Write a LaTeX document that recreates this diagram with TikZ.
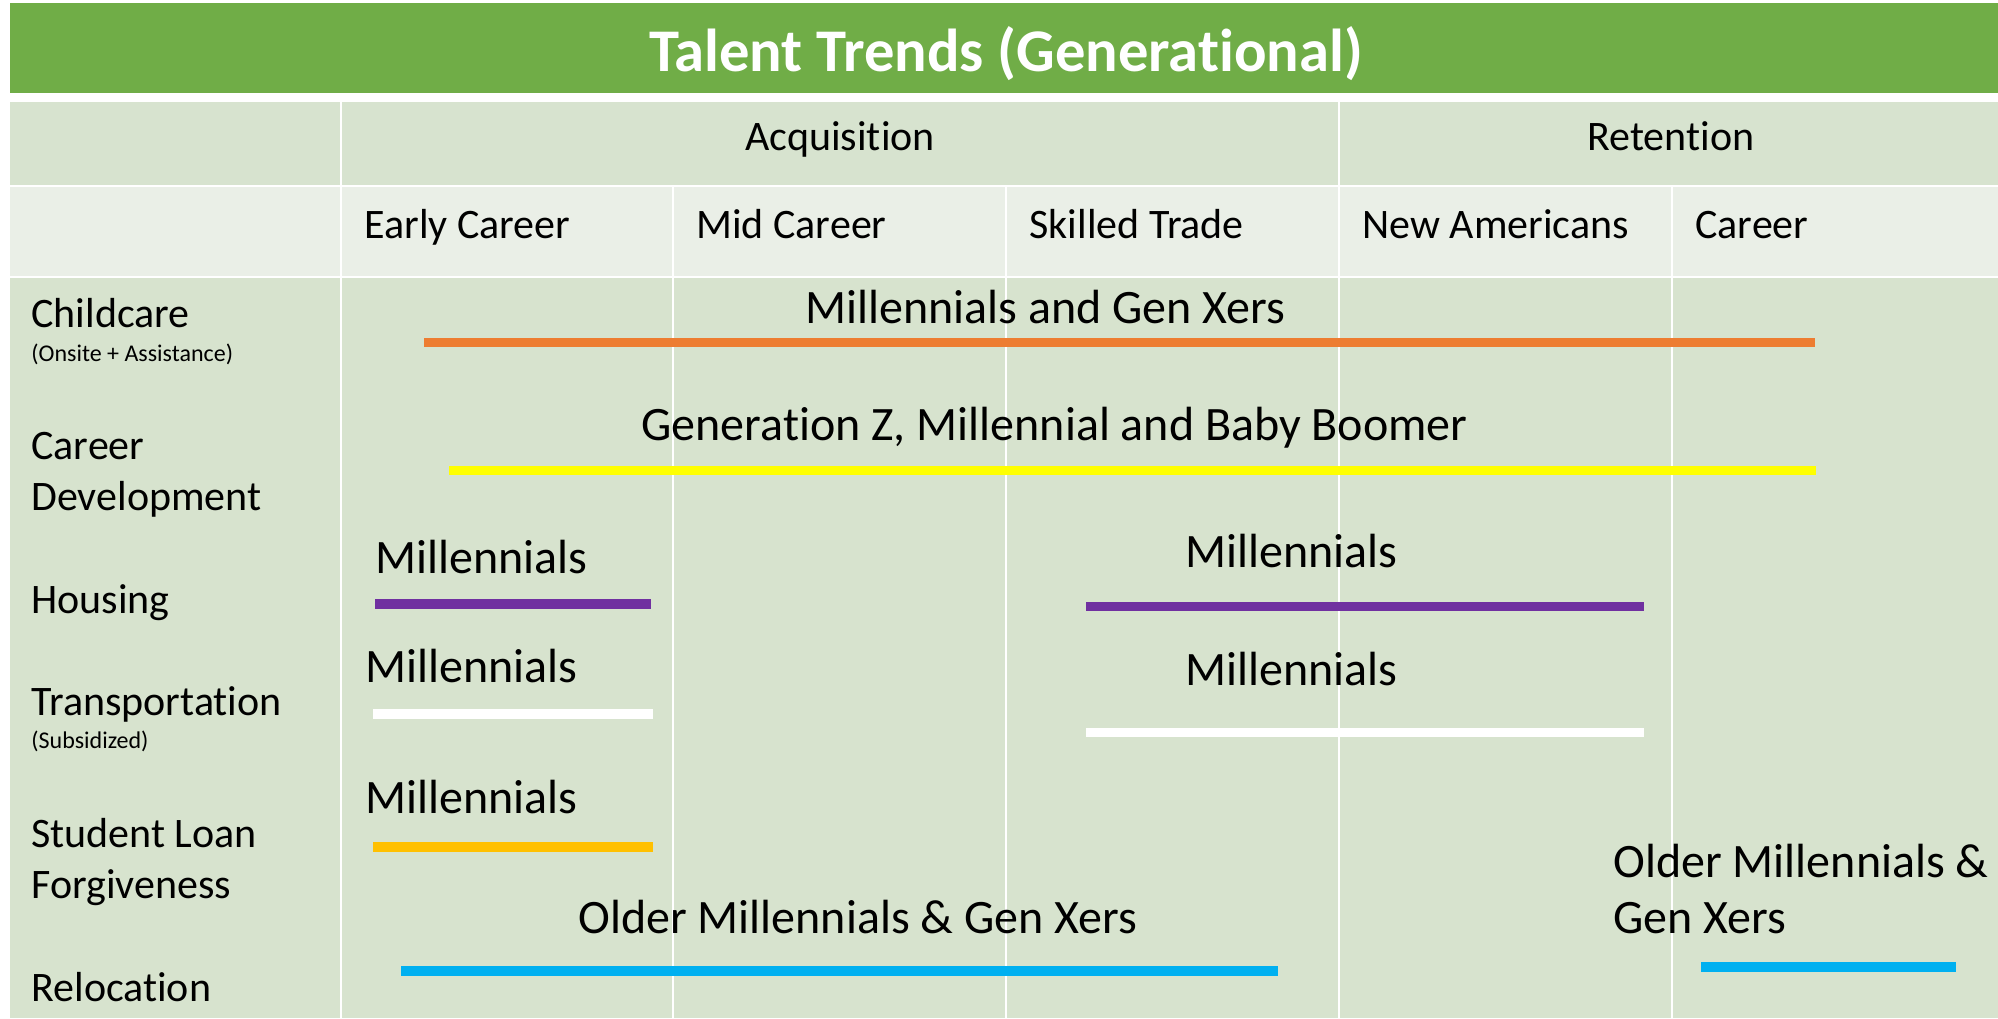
\documentclass[tikz,border=0pt]{standalone}
\usepackage{fontspec}
\setmainfont{Carlito}[Ligatures=NoCommon]
\definecolor{tgreen}{HTML}{70AD47}
\definecolor{hdrone}{HTML}{D7E3CF}
\definecolor{hdrtwo}{HTML}{EAEFE7}
\definecolor{bodyc}{HTML}{D7E3CE}
\definecolor{orangec}{HTML}{ED7D31}
\definecolor{yellowc}{HTML}{FFFF00}
\definecolor{purplec}{HTML}{7030A0}
\definecolor{amberc}{HTML}{FFC000}
\definecolor{bluec}{HTML}{00B0F0}
\begin{document}
\begin{tikzpicture}[x=0.5pt,y=-0.5pt,
  hdr/.style={inner sep=0pt, anchor=base, font=\fontsize{21}{25}\selectfont},
  sub/.style={inner sep=0pt, anchor=base west, font=\fontsize{21}{25}\selectfont},
  rowlab/.style={inner sep=0pt, anchor=base west, font=\fontsize{21}{25}\selectfont},
  small/.style={inner sep=0pt, anchor=base west, font=\fontsize{12}{14}\selectfont},
  barlab/.style={inner sep=0pt, anchor=base west, font=\fontsize{24}{29}\selectfont},
  bar/.style={line width=4.8pt, line cap=butt},
  grid/.style={white, line width=1.2pt}
]
% canvas
\fill[white] (0,0) rectangle (1998,1018);
\useasboundingbox (0,0) rectangle (1998,1018);
% title band
\fill[tgreen] (10,3) rectangle (1998,93);
\node[inner sep=0pt, anchor=base, text=white, font=\fontsize{30.3}{36}\selectfont\bfseries] (title) at (1006,71) {Talent Trends (Generational)};
% table backgrounds
\fill[hdrone] (10,102) rectangle (1998,184.5);
\fill[hdrtwo] (10,186.5) rectangle (1998,275.5);
\fill[bodyc] (10,277.5) rectangle (1998,1018);
% grid lines
\draw[grid] (341,102) -- (341,1018);
\draw[grid] (1339,102) -- (1339,1018);
\draw[grid] (673,186) -- (673,1018);
\draw[grid] (1006,186) -- (1006,1018);
\draw[grid] (1672,186) -- (1672,1018);
% header texts
\node[hdr] (acq) at (840,150) {Acquisition};
\node[hdr] (ret) at (1671,150) {Retention};
\node[sub] (early) at (364,238) {Early Career};
\node[sub] (mid) at (696,238) {Mid Career};
\node[sub] (skill) at (1029,238) {Skilled Trade};
\node[sub] (newam) at (1362,238) {New Americans};
\node[sub] (career) at (1695,238) {Career};
% row labels
\node[rowlab] (child) at (31,327) {Childcare};
\node[small] (childsub) at (31,361) {(Onsite + Assistance)};
\node[rowlab] (cd1) at (31,459) {Career};
\node[rowlab] (cd2) at (31,510) {Development};
\node[rowlab] (house) at (31,613) {Housing};
\node[rowlab] (trans) at (31,715) {Transportation};
\node[small] (transsub) at (31,748) {(Subsidized)};
\node[rowlab] (sl1) at (31,847) {Student Loan};
\node[rowlab] (sl2) at (31,898) {Forgiveness};
\node[rowlab] (reloc) at (31,1001) {Relocation};
% bars
\draw[bar, orangec] (424,342.5) -- (1815,342.5);
\draw[bar, yellowc] (449,470.5) -- (1816,470.5);
\draw[bar, purplec] (375,604) -- (651,604);
\draw[bar, purplec] (1086,606.5) -- (1644,606.5);
\draw[bar, white] (373,714) -- (653,714);
\draw[bar, white] (1086,732.5) -- (1644,732.5);
\draw[bar, amberc] (373,847) -- (653,847);
\draw[bar, bluec] (401,971) -- (1278,971);
\draw[bar, bluec] (1701,967) -- (1956,967);
% bar labels
\node[barlab] (l1) at (805,323) {Millennials and Gen Xers};
\node[barlab] (l2) at (641,440) {Generation Z, Millennial and Baby Boomer};
\node[barlab] (l3) at (375,573) {Millennials};
\node[barlab] (l4) at (1185,567) {Millennials};
\node[barlab] (l5) at (365,682) {Millennials};
\node[barlab] (l6) at (1185,685) {Millennials};
\node[barlab] (l7) at (365,813) {Millennials};
\node[barlab] (l8) at (578,933) {Older Millennials \& Gen Xers};
\node[barlab] (l9) at (1613,877) {Older Millennials \&};
\node[barlab] (l10) at (1613,933) {Gen Xers};
\end{tikzpicture}
\end{document}
